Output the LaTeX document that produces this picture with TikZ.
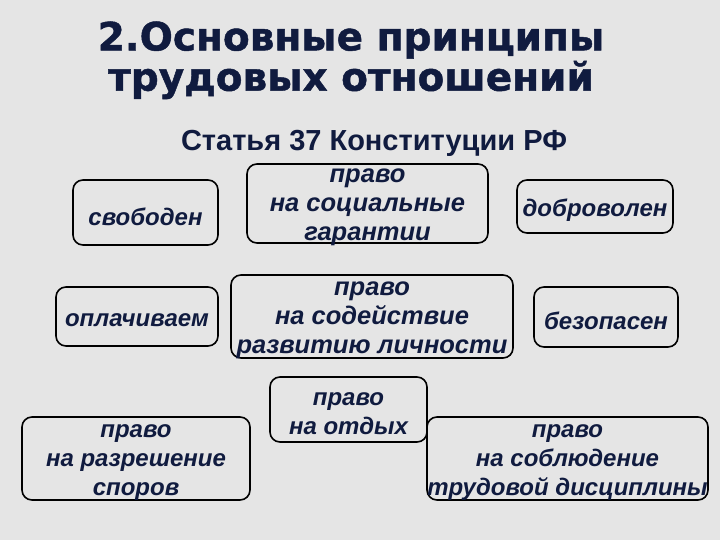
\documentclass[tikz,border=0pt]{standalone}
\usepackage{fontspec}
\setmainfont{Liberation Sans}
\newfontfamily\titlefont[FakeBold=1.2]{DejaVu Sans}
\definecolor{navy}{HTML}{101B3F}
\definecolor{paper}{HTML}{E5E5E5}
\tikzset{
  pbox/.style={draw=black, line width=1.6pt, rounded corners=10pt, inner sep=0pt},
  ptext/.style={align=center, inner sep=0pt, yshift=-4pt, text=navy,
    font=\fontsize{24}{29}\selectfont\bfseries\itshape},
  bigtext/.style={font=\fontsize{25.5}{29}\selectfont\bfseries\itshape}
}
\begin{document}
\begin{tikzpicture}[x=1pt, y=-1pt]

        % Background
        \fill[paper] (0,0) rectangle (720,540);
        \useasboundingbox (0,0) rectangle (720,540);

        % Title
        \node[text=navy, font=\titlefont\fontsize{39}{40}\selectfont\bfseries] (title1) at (351,40) {2.Основные принципы};
        \node[text=navy, font=\titlefont\fontsize{39}{40}\selectfont\bfseries] (title2) at (351,80) {трудовых отношений};
        \node[text=navy, font=\fontsize{29}{32}\selectfont\bfseries] (article) at (374,143) {Статья 37 Конституции РФ};

        % Principles, top row
        \node[pbox, minimum width=145, minimum height=65, label={[ptext]center:свободен}] (free) at (145.5,212.5) {};
        \node[pbox, minimum width=241, minimum height=79, label={[ptext, bigtext]center:{право\\на социальные\\гарантии}}] (social) at (367.5,203.5) {};
        \node[pbox, minimum width=156, minimum height=53, label={[ptext]center:доброволен}] (volunt) at (595,206.5) {};

        % middle row
        \node[pbox, minimum width=162, minimum height=59, label={[ptext]center:оплачиваем}] (paid) at (137,316.5) {};
        \node[pbox, minimum width=282, minimum height=83, label={[ptext, bigtext]center:{право\\на содействие\\развитию личности}}] (develop) at (372,316.5) {};
        \node[pbox, minimum width=144, minimum height=60, label={[ptext]center:безопасен}] (safe) at (606,317) {};

        % bottom row
        \node[pbox, minimum width=228, minimum height=83, label={[ptext]center:{право\\на разрешение\\споров}}] (dispute) at (136,458.5) {};
        \node[pbox, minimum width=157, minimum height=65, label={[ptext]center:{право\\на отдых}}] (rest) at (348.5,409.5) {};
        \node[pbox, minimum width=281, minimum height=83, label={[ptext]center:{право\\на соблюдение\\трудовой дисциплины}}] (discip) at (567.5,458.5) {};

\end{tikzpicture}
\end{document}
